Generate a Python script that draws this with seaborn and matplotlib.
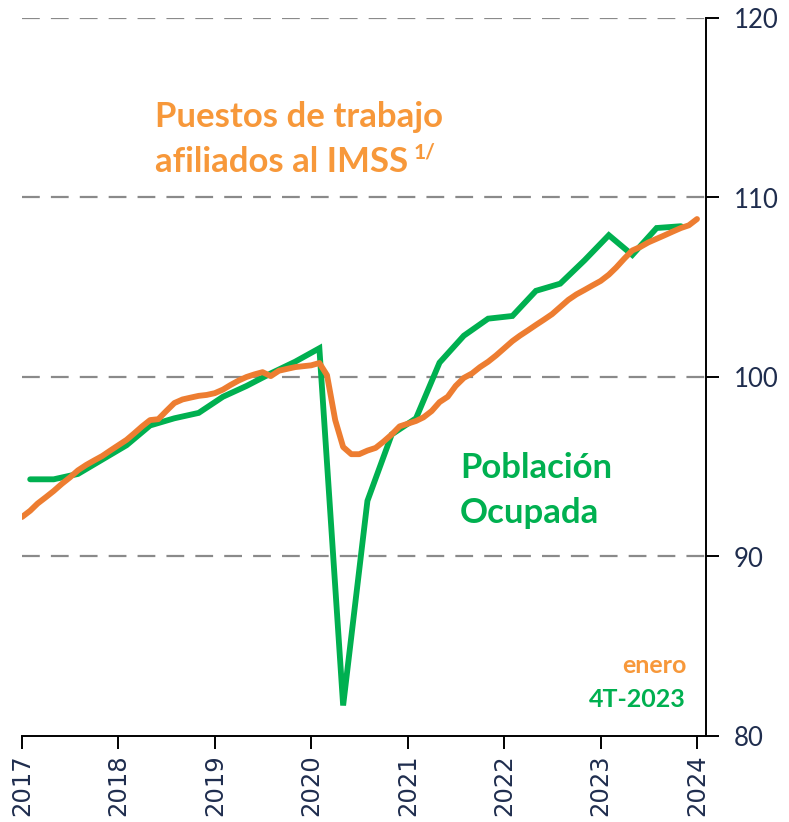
import numpy as np
import pandas as pd
import matplotlib
matplotlib.use("Agg")
import matplotlib.pyplot as plt
import matplotlib.dates as mdates
import seaborn as sns

# ---- data ----
imss_start = "2017-01-01"
imss_values = [
    92.2, 92.55, 92.95, 93.3, 93.65, 94.05, 94.4, 94.8, 95.1, 95.35, 95.6, 95.9,      # 2017
    96.2, 96.5, 96.85, 97.25, 97.6, 97.65, 98.1, 98.55, 98.75, 98.85, 98.95, 99.0,    # 2018
    99.1, 99.3, 99.55, 99.8, 100.0, 100.15, 100.27, 100.05, 100.35, 100.45, 100.55, 100.6,  # 2019
    100.65, 100.78, 100.1, 97.6, 96.1, 95.7, 95.7, 95.9, 96.05, 96.4, 96.8, 97.25,    # 2020
    97.4, 97.55, 97.75, 98.1, 98.6, 98.9, 99.5, 99.95, 100.2, 100.55, 100.85, 101.2,  # 2021
    101.6, 102.0, 102.3, 102.6, 102.9, 103.2, 103.5, 103.9, 104.3, 104.6, 104.85, 105.1,  # 2022
    105.35, 105.7, 106.1, 106.6, 107.05, 107.25, 107.5, 107.7, 107.9, 108.1, 108.3, 108.45,  # 2023
    108.8,  # Jan 2024
]
ocupada_start = "2017-02-01"
ocupada_values = [
    94.3, 94.3, 94.6, 95.4,      # 2017
    96.2, 97.3, 97.7, 98.0,      # 2018
    98.9, 99.5, 100.2, 100.85,   # 2019
    101.6, 81.7, 93.1, 96.8,     # 2020
    97.7, 100.8, 102.3, 103.25,  # 2021
    103.4, 104.8, 105.2, 106.5,  # 2022
    107.9, 106.8, 108.3, 108.4,  # 2023
]
year_ticks = list(range(2017, 2025))
y_ticks = [80, 90, 100, 110, 120]

df_imss = pd.DataFrame({
    "fecha": pd.date_range(imss_start, periods=len(imss_values), freq="MS"),
    "valor": imss_values,
})
df_ocup = pd.DataFrame({
    "fecha": pd.date_range(ocupada_start, periods=len(ocupada_values), freq="3MS"),
    "valor": ocupada_values,
})

# ---- style ----
sns.set_style("white")
plt.rcParams["font.family"] = ["Lato", "DejaVu Sans"]

ORANGE = "#ED7D31"
ORANGE_TXT = "#F7983A"
GREEN = "#00B050"
NAVY = "#1F2D4E"

fig = plt.figure(figsize=(7.89, 8.22), dpi=100)
ax = fig.add_axes([22 / 789, 1 - 736 / 822, (706 - 22) / 789, (736 - 18) / 822])

sns.lineplot(data=df_ocup, x="fecha", y="valor", ax=ax, color=GREEN, lw=4.2,
             solid_capstyle="round", solid_joinstyle="miter", zorder=3)
sns.lineplot(data=df_imss, x="fecha", y="valor", ax=ax, color=ORANGE, lw=4.2,
             solid_capstyle="round", solid_joinstyle="round", zorder=4)

ax.set_xlim(pd.Timestamp("2017-01-01"), pd.Timestamp("2024-02-04"))
ax.set_ylim(y_ticks[0], y_ticks[-1])
ax.set_xlabel("")
ax.set_ylabel("")

ax.xaxis.set_major_locator(mdates.YearLocator())
ax.xaxis.set_major_formatter(mdates.DateFormatter("%Y"))
ax.set_yticks(y_ticks)
ax.yaxis.tick_right()
ax.yaxis.set_label_position("right")

for s in ["top", "left"]:
    ax.spines[s].set_visible(False)
for s in ["bottom", "right"]:
    ax.spines[s].set_visible(True)
    ax.spines[s].set_color("black")
    ax.spines[s].set_linewidth(1.4)

ax.tick_params(axis="x", direction="out", length=9, width=1.4, color="black",
               labelsize=17.5, labelcolor=NAVY, rotation=90, pad=4, bottom=True)
ax.tick_params(axis="y", direction="out", length=9, width=1.4, color="black",
               labelsize=18.5, labelcolor=NAVY, pad=11, right=True, left=False)
for lab in ax.get_xticklabels():
    lab.set_fontfamily("DejaVu Sans")

ax.grid(False)
for v in y_ticks[1:]:
    ax.axhline(v, color="#8a8a8a", lw=1.6, ls=(0, (8, 5)), zorder=1)

# ---- annotations ----
tk = dict(transform=ax.transAxes, fontweight="bold")
ax.text(0.194, 0.862, "Puestos de trabajo", color=ORANGE_TXT, fontsize=25,
        ha="left", va="center", **tk)
ax.text(0.194, 0.799, "afiliados al IMSS", color=ORANGE_TXT, fontsize=25,
        ha="left", va="center", **tk)
ax.text(0.573, 0.812, "1/", color=ORANGE_TXT, fontsize=15,
        ha="left", va="center", **tk)

ax.text(0.640, 0.373, "Población", color=GREEN, fontsize=25,
        ha="left", va="center", **tk)
ax.text(0.640, 0.310, "Ocupada", color=GREEN, fontsize=25,
        ha="left", va="center", **tk)

ax.text(0.971, 0.0975, "enero", color=ORANGE_TXT, fontsize=18,
        ha="right", va="center", **tk)
ax.text(0.971, 0.0515, "4T-2023", color=GREEN, fontsize=18,
        ha="right", va="center", **tk)

fig.savefig("out.png", dpi=100)
